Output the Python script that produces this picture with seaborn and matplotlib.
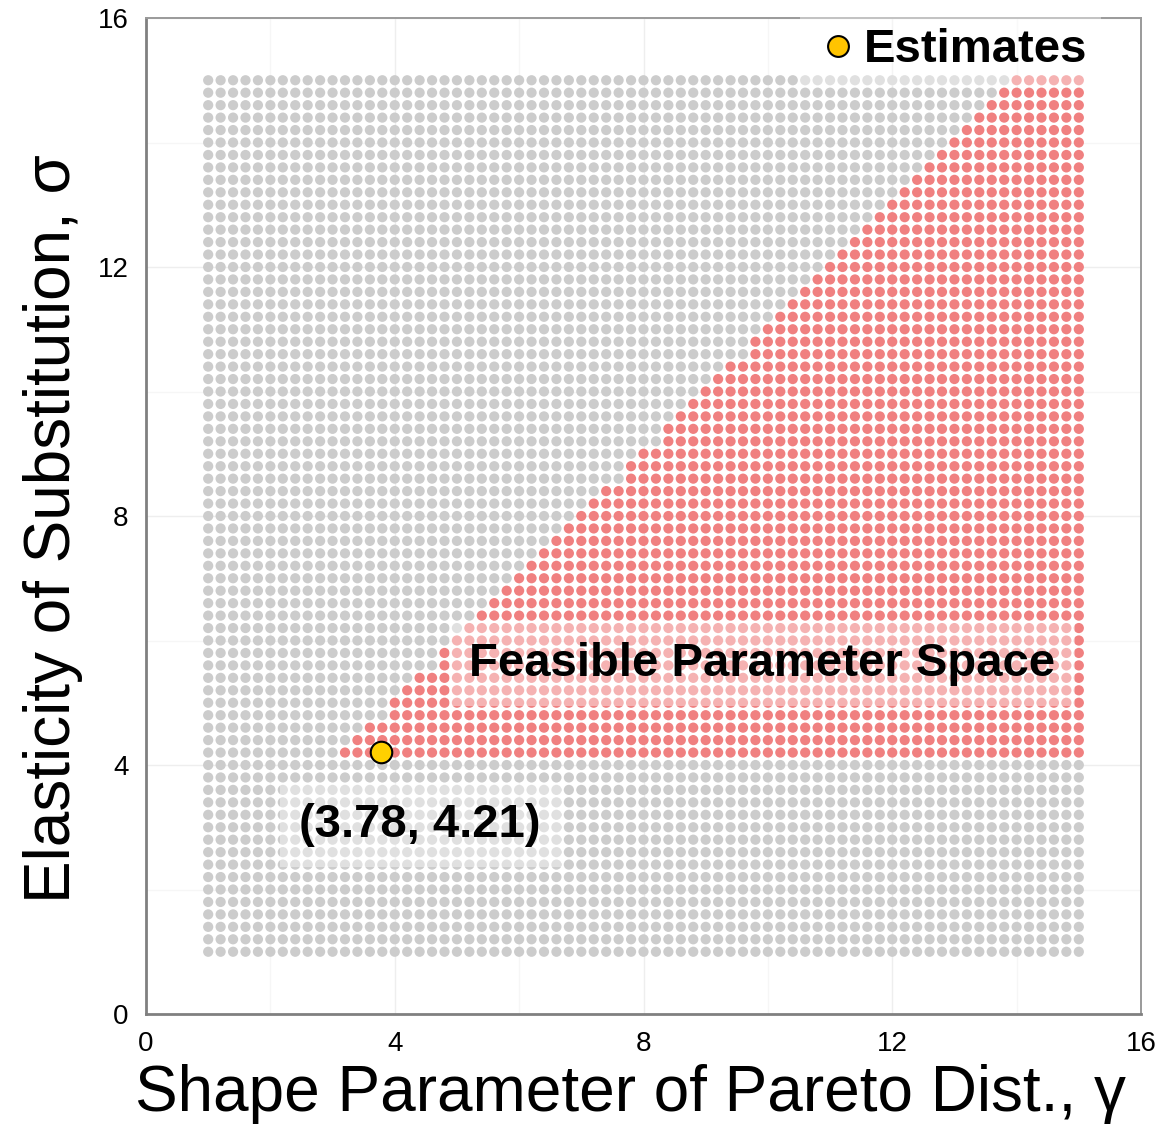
import numpy as np
import pandas as pd
import matplotlib
matplotlib.use("Agg")
import matplotlib.pyplot as plt
import seaborn as sns
from matplotlib.lines import Line2D

sns.set_style("white")
plt.rcParams['font.family'] = ['Liberation Sans', 'DejaVu Sans']
plt.rcParams['text.color'] = 'black'
plt.rcParams['axes.labelcolor'] = 'black'

# ---- data ----
grid_start = 1.0
grid_step = 0.2
grid_n = 71                      # 1.0, 1.2, ..., 15.0
sigma_min = 4.1                  # lower bound of feasible sigma
gamma_offset = 1.0               # feasible when gamma >= sigma - 1
estimate_gamma = [3.78]
estimate_sigma = [4.21]
estimate_label = "(3.78, 4.21)"
region_label = "Feasible Parameter Space"
legend_label = "Estimates"
x_ticks = [0, 4, 8, 12, 16]
y_ticks = [0, 4, 8, 12, 16]

grid_vals = grid_start + np.arange(grid_n) * grid_step
G, S = np.meshgrid(grid_vals, grid_vals)
G = G.ravel(); S = S.ravel()
feasible = (S > sigma_min) & (G >= S - gamma_offset)
df = pd.DataFrame({"gamma": G, "sigma": S,
                   "status": np.where(feasible, "feasible", "infeasible")})
est = pd.DataFrame({"gamma": estimate_gamma, "sigma": estimate_sigma})

# ---- figure ----
fig = plt.figure(figsize=(11.61, 11.26), dpi=100)
ax = fig.add_axes([146/1161, 1 - 1014/1126, 995/1161, 996/1126])

sns.scatterplot(data=df, x="gamma", y="sigma", hue="status",
                palette={"feasible": "#F08080", "infeasible": "#CCCCCC"},
                s=54, linewidth=0, legend=False, ax=ax, zorder=2)

ax.text(9.9, 5.62, region_label, fontsize=34, fontweight='bold',
        ha='center', va='center', zorder=4, color='black',
        bbox=dict(boxstyle='square,pad=0.42', fc='white', ec='none', alpha=0.4))
ax.text(4.41, 3.04, estimate_label, fontsize=34, fontweight='bold',
        ha='center', va='center', zorder=4, color='black',
        bbox=dict(boxstyle='square,pad=0.42', fc='white', ec='none', alpha=0.4))

sns.scatterplot(data=est, x="gamma", y="sigma", color="#FFD000", s=240,
                edgecolor='black', linewidth=1.5, legend=False, ax=ax, zorder=5)

ax.set_xlim(0, 16)
ax.set_ylim(0, 16)
ax.set_xticks(x_ticks)
ax.set_yticks(y_ticks)
ax.set_xticks([2, 6, 10, 14], minor=True)
ax.set_yticks([2, 6, 10, 14], minor=True)
ax.grid(True, which='major', color='#EEEEEE', linewidth=1.0, zorder=0)
ax.grid(True, which='minor', color='#F6F6F6', linewidth=1.0, zorder=0)
ax.set_axisbelow(True)
ax.tick_params(axis='both', which='major', direction='out', length=8.5,
               width=1.6, color='black', labelsize=20, pad=4, labelcolor='black')
ax.tick_params(axis='both', which='minor', length=0)

for side in ['left', 'bottom']:
    ax.spines[side].set_color('#808080')
    ax.spines[side].set_linewidth(2.0)
for side in ['top', 'right']:
    ax.spines[side].set_color('#9a9a9a')
    ax.spines[side].set_linewidth(1.4)

ax.set_xlabel("Shape Parameter of Pareto Dist., γ", fontsize=46)
ax.set_ylabel("Elasticity of Substitution, σ", fontsize=46)
ax.xaxis.set_label_coords(0.487, -0.05)
ax.yaxis.set_label_coords(-0.063, 0.487)

handle = Line2D([], [], marker='o', linestyle='none', markersize=15,
                markerfacecolor='#FFC400', markeredgecolor='black',
                markeredgewidth=1.5)
leg = ax.legend([handle], [legend_label], loc='upper right',
                bbox_to_anchor=(0.96, 1.004), borderaxespad=0,
                frameon=True, fancybox=False, framealpha=0.4,
                facecolor='white', edgecolor='none',
                prop={'weight': 'bold', 'size': 34},
                handletextpad=0.05, handlelength=1.0, borderpad=0.3)
for t in leg.get_texts():
    t.set_color('black')
leg.set_zorder(10)

fig.savefig("out.png", dpi=100)
